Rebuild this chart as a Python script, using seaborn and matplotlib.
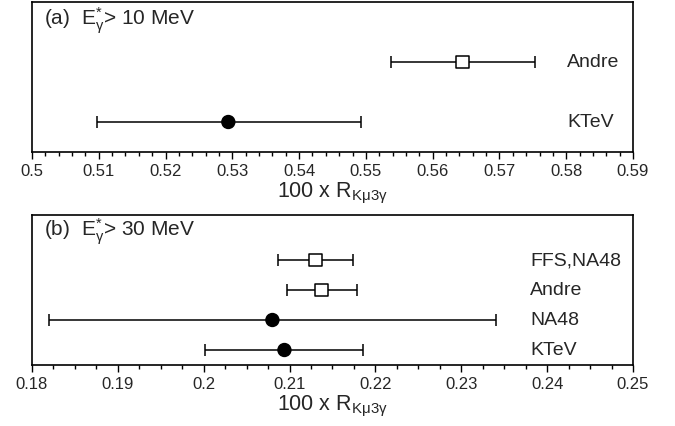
import matplotlib
matplotlib.use("Agg")
import matplotlib.pyplot as plt
import seaborn as sns
import pandas as pd
from matplotlib.ticker import MultipleLocator

# ---- data ----
a_labels = ["KTeV", "Andre"]
a_center = [0.5294, 0.5645]
a_low = [0.5097, 0.5538]
a_high = [0.5492, 0.5753]
a_kind = ["exp", "theory"]

b_labels = ["KTeV", "NA48", "Andre", "FFS,NA48"]
b_center = [0.2094, 0.2080, 0.2137, 0.2130]
b_low = [0.2001, 0.1820, 0.2097, 0.2087]
b_high = [0.2185, 0.2340, 0.2178, 0.2174]
b_kind = ["exp", "exp", "theory", "theory"]

sns.set_theme(style="ticks")
plt.rcParams["font.family"] = ["Liberation Sans", "DejaVu Sans"]
plt.rcParams["mathtext.fontset"] = "custom"
plt.rcParams["mathtext.rm"] = "Liberation Sans"
plt.rcParams["mathtext.it"] = "Liberation Sans:italic"

fig = plt.figure(figsize=(6.75, 4.27), dpi=100)
W, H = 675, 427
def axes_px(x0, y0, x1, y1):
    return fig.add_axes([x0 / W, 1 - y1 / H, (x1 - x0) / W, (y1 - y0) / H])

ax_a = axes_px(32, 3, 633, 153)
ax_b = axes_px(32, 216, 633, 366)

def draw(ax, labels, center, low, high, kind, xlim, minor, title, label_x, title_y, ytop):
    df = pd.DataFrame({"label": labels, "x": center, "lo": low, "hi": high, "kind": kind})
    df["y"] = range(len(df))
    df["y"] = df["y"] + 0.5
    ax.errorbar(df["x"], df["y"], xerr=[df["x"] - df["lo"], df["hi"] - df["x"]],
                fmt="none", ecolor="black", elinewidth=1.1, capsize=4.5, capthick=1.1, zorder=2)
    sns.scatterplot(data=df, x="x", y="y", style="kind", hue="kind",
                    markers={"exp": "o", "theory": "s"},
                    palette={"exp": "black", "theory": "white"},
                    edgecolor="black", linewidth=1.1, s=85, legend=False, ax=ax, zorder=3)
    for lab, yy in zip(df["label"], df["y"]):
        ax.text(label_x, yy, lab, transform=ax.get_yaxis_transform(), fontsize=14,
                va="center", ha="left")
    ax.set_xlim(*xlim)
    ax.set_ylim(0, ytop)
    ax.set_yticks([])
    ax.set_ylabel("")
    ax.xaxis.set_major_locator(MultipleLocator(0.01))
    ax.xaxis.set_minor_locator(MultipleLocator(minor))
    ax.tick_params(axis="x", which="major", direction="out", length=5, width=1.0,
                   labelsize=12, pad=3, color="black")
    ax.tick_params(axis="x", which="minor", direction="out", length=3, width=1.0, color="black")
    ax.xaxis.set_major_formatter(matplotlib.ticker.FuncFormatter(
        lambda v, p: f"{v:.2f}".rstrip("0").rstrip(".")))
    for sp in ax.spines.values():
        sp.set_visible(True)
        sp.set_linewidth(1.2)
        sp.set_color("black")
    ax.set_xlabel(r"100 x R$_{\mathregular{Kμ3γ}}$", fontsize=15.5, labelpad=1.5)
    ax.text(0.02, title_y, title, transform=ax.transAxes, fontsize=15, va="baseline", ha="left")

draw(ax_a, a_labels, a_center, a_low, a_high, a_kind, (0.5, 0.59), 0.002,
     r"(a)  E$_{\mathregular{γ}}^{\mathregular{*}}$> 10 MeV", 0.89, 0.853, 2.5)
draw(ax_b, b_labels, b_center, b_low, b_high, b_kind, (0.18, 0.25), 0.0025,
     r"(b)  E$_{\mathregular{γ}}^{\mathregular{*}}$> 30 MeV", 0.829, 0.867, 5)

fig.savefig("out.png", dpi=100)
